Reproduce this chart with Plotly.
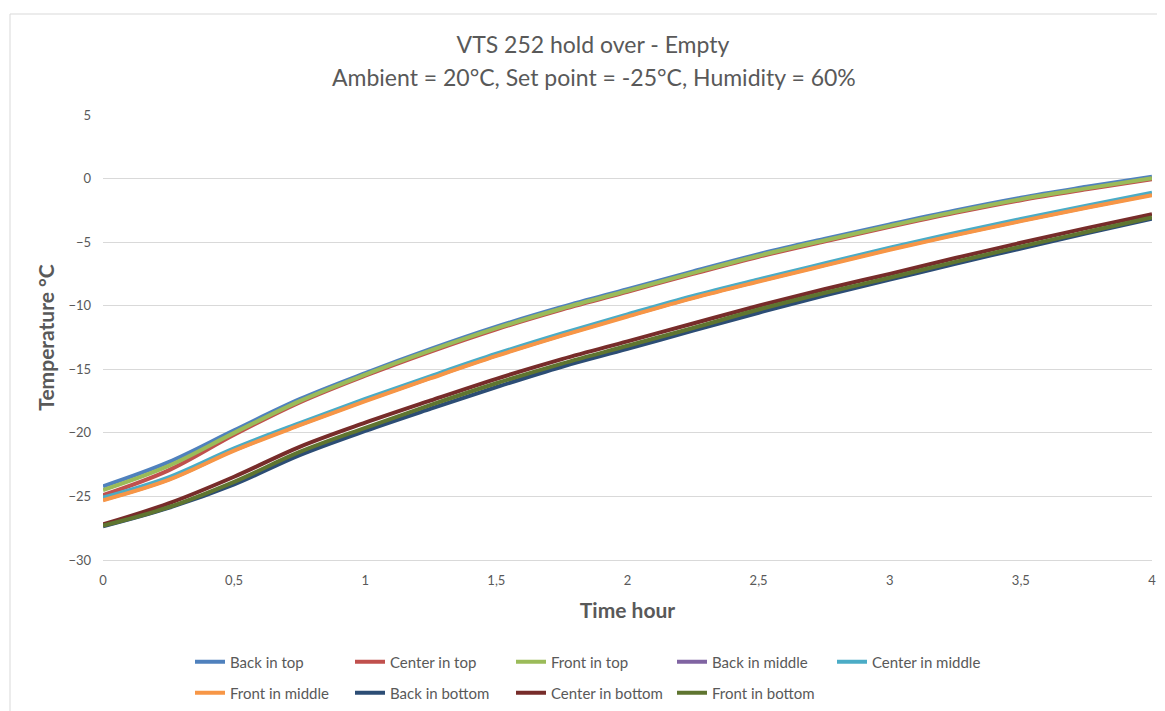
import plotly.graph_objects as go

# Time in hours
time_h = [0, 0.25, 0.5, 0.75, 1.0, 1.25, 1.5, 1.75, 2.0, 2.25, 2.5, 2.75, 3.0, 3.25, 3.5, 3.75, 4.0]

back_in_top = [-24.2, -22.3, -19.8, -17.35, -15.3, -13.4, -11.65, -10.1, -8.7, -7.3, -5.95, -4.75, -3.6, -2.5, -1.5, -0.65, 0.15]
center_in_top = [-24.9, -22.95, -20.15, -17.6, -15.5, -13.6, -11.85, -10.3, -8.9, -7.5, -6.15, -4.95, -3.8, -2.7, -1.7, -0.85, -0.05]
front_in_top = [-24.5, -22.6, -20.0, -17.5, -15.42, -13.52, -11.77, -10.22, -8.82, -7.42, -6.07, -4.87, -3.72, -2.62, -1.62, -0.77, 0.03]
back_in_middle = [-25.25, -23.65, -21.35, -19.35, -17.45, -15.65, -13.9, -12.3, -10.8, -9.35, -8.05, -6.8, -5.55, -4.4, -3.3, -2.25, -1.25]
center_in_middle = [-25.1, -23.5, -21.22, -19.23, -17.33, -15.53, -13.78, -12.18, -10.68, -9.23, -7.93, -6.68, -5.43, -4.28, -3.18, -2.13, -1.12]
front_in_middle = [-25.3, -23.7, -21.4, -19.4, -17.5, -15.7, -13.95, -12.35, -10.85, -9.4, -8.1, -6.85, -5.6, -4.45, -3.35, -2.3, -1.3]
back_in_bottom = [-27.35, -25.9, -24.05, -21.75, -19.85, -18.1, -16.4, -14.8, -13.4, -11.95, -10.55, -9.2, -7.95, -6.7, -5.5, -4.3, -3.15]
center_in_bottom = [-27.2, -25.55, -23.45, -21.1, -19.2, -17.45, -15.75, -14.2, -12.8, -11.4, -10.0, -8.7, -7.5, -6.25, -5.05, -3.9, -2.8]
front_in_bottom = [-27.3, -25.85, -23.85, -21.5, -19.6, -17.8, -16.1, -14.55, -13.15, -11.75, -10.3, -9.0, -7.8, -6.55, -5.35, -4.2, -3.05]

series_names = ["Back in top", "Center in top", "Front in top", "Back in middle", "Center in middle",
                "Front in middle", "Back in bottom", "Center in bottom", "Front in bottom"]
series_values = [back_in_top, center_in_top, front_in_top, back_in_middle, center_in_middle,
                 front_in_middle, back_in_bottom, center_in_bottom, front_in_bottom]
colors = ["#4F81BD", "#C0504D", "#9BBB59", "#8064A2", "#4BACC6",
          "#F79646", "#2C4D75", "#772C2A", "#5F7530"]

x_tick_vals = [0, 0.5, 1, 1.5, 2, 2.5, 3, 3.5, 4]
x_tick_text = ["0", "0,5", "1", "1,5", "2", "2,5", "3", "3,5", "4"]
y_tick_vals = [-30, -25, -20, -15, -10, -5, 0, 5]

FONT = "Lato"
GREY = "#595959"

# page body has an 8px margin: lay out in screen pixels minus that offset
OFF = 8
W, H = 1165, 711
L, T = 103 - OFF, 115 - OFF
pw, ph = 1152 - 103, 560 - 115
R = W - L - pw
B = H - T - ph

def px_x(p):
    return (p - OFF - L) / pw

def px_y(p):
    return (H - B - (p - OFF)) / ph

# legend grid (screen pixels): line start x, row centre y
leg_x = [196, 356, 517, 678, 838, 196, 356, 517, 678]
leg_y = [662, 662, 662, 662, 662, 693, 693, 693, 693]

fig = go.Figure()
layout_legends = {}
for i, (name, vals, col) in enumerate(zip(series_names, series_values, colors)):
    key = "legend" if i == 0 else f"legend{i + 1}"
    fig.add_trace(go.Scatter(
        x=time_h, y=vals, name=name, mode="lines",
        line=dict(color=col, width=4, shape="spline", smoothing=1.0),
        legend=key, showlegend=True,
    ))
    layout_legends[key] = dict(
        x=px_x(leg_x[i] - 6), y=px_y(leg_y[i]), xanchor="left", yanchor="middle",
        orientation="h", font=dict(family=FONT, size=15, color=GREY),
        bgcolor="rgba(0,0,0,0)", borderwidth=0,
    )

fig.update_layout(
    width=W, height=H,
    showlegend=True,
    margin=dict(l=L, r=R, t=T, b=B, autoexpand=False),
    paper_bgcolor="white", plot_bgcolor="white",
    font=dict(family=FONT, color=GREY),
    title=dict(
        text="VTS 252 hold over - Empty",
        x=px_x(593), xref="paper", xanchor="center",
        y=1 - (45 - OFF) / H, yref="container", yanchor="middle",
        font=dict(family=FONT, size=23, color=GREY),
    ),
    annotations=[dict(
        text="Ambient = 20°C, Set point = -25°C, Humidity = 60%",
        x=px_x(594), y=px_y(77), xref="paper", yref="paper",
        xanchor="center", yanchor="middle", showarrow=False,
        font=dict(family=FONT, size=23, color=GREY),
    )],
    xaxis=dict(
        range=[0, 4], tickvals=x_tick_vals, ticktext=x_tick_text,
        showgrid=False, zeroline=False, showline=True, linecolor="#D9D9D9", linewidth=1,
        ticks="", ticklabelstandoff=8, automargin=False,
        tickfont=dict(family=FONT, size=13, color=GREY),
        title=dict(text="<b>Time hour</b>", font=dict(family=FONT, size=21, color=GREY), standoff=16),
    ),
    yaxis=dict(
        range=[-30, 5], tickvals=y_tick_vals,
        showgrid=True, gridcolor="#D9D9D9", gridwidth=1, zeroline=False, showline=False,
        ticks="", ticklabelstandoff=11, automargin=False,
        tickfont=dict(family=FONT, size=13, color=GREY),
        title=dict(text="<b>Temperature °C</b>", font=dict(family=FONT, size=21, color=GREY), standoff=8),
    ),
    shapes=[dict(
        type="rect", xref="paper", yref="paper",
        x0=px_x(10), x1=px_x(1185), y0=px_y(730), y1=px_y(14),
        line=dict(color="#D9D9D9", width=1), fillcolor="rgba(0,0,0,0)", layer="below",
    )],
    **layout_legends,
)

fig.write_html("out.html")
